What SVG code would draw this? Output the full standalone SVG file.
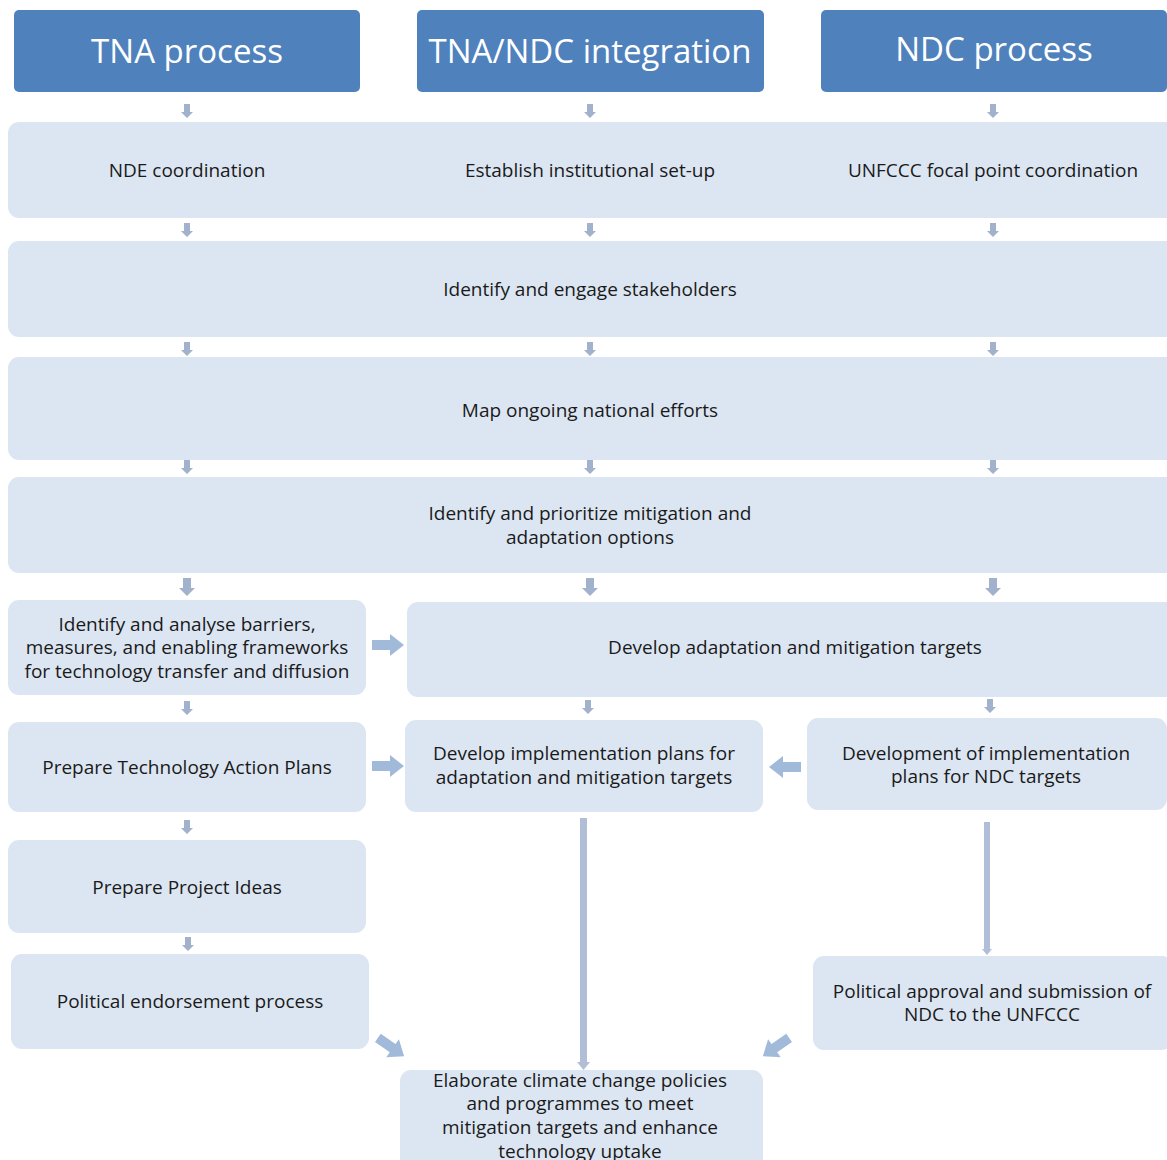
<svg xmlns="http://www.w3.org/2000/svg" width="1167" height="1160" viewBox="0 0 1167 1160">
<defs>
<style>
.hdr{fill:#4F81BD}
.box{fill:#DCE6F2}
.ht{font-family:"Open Sans","Noto Sans",sans-serif;font-size:33px;fill:#FFFFFF;text-anchor:middle}
.t{font-family:"Open Sans","Noto Sans",sans-serif;font-size:19px;fill:#1a1a1a;text-anchor:middle}
.sa{fill:#A3B2CC}
.ba{fill:#A2BADA}
.ln{fill:#B0BED8}
</style>
<path id="sd" d="M-3,-7 H3 V1 H6 L0,7 L-6,1 H-3 Z"/>
<path id="bd" d="M-4,-9 H4 V1 H8 L0,9 L-8,1 H-4 Z"/>
<path id="br" d="M-16,-5 H2 V-11 L16,0 L2,11 V5 H-16 Z"/>
</defs>
<rect width="1167" height="1160" fill="#FFFFFF"/>
<g id="h1"><rect class="hdr" x="14" y="10" width="346" height="82" rx="5"/><text class="ht" x="187" y="63">TNA process</text></g>
<g id="h2"><rect class="hdr" x="417" y="10" width="347" height="82" rx="5"/><text class="ht" x="590" y="63">TNA/NDC integration</text></g>
<g id="h3"><rect class="hdr" x="821" y="10" width="346" height="82" rx="5"/><text class="ht" x="994" y="61">NDC process</text></g>
<g id="r1"><rect class="box" x="8" y="122" width="1170" height="96" rx="11"/>
<text class="t" x="187" y="177">NDE coordination</text>
<text class="t" x="590" y="177">Establish institutional set-up</text>
<text class="t" x="993" y="177">UNFCCC focal point coordination</text></g>
<g id="r2"><rect class="box" x="8" y="241" width="1170" height="96" rx="11"/><text class="t" x="590" y="296">Identify and engage stakeholders</text></g>
<g id="r3"><rect class="box" x="8" y="357" width="1170" height="103" rx="11"/><text class="t" x="590" y="417">Map ongoing national efforts</text></g>
<g id="r4"><rect class="box" x="8" y="477" width="1170" height="96" rx="11"/><text class="t" x="590" y="520">Identify and prioritize mitigation and</text><text class="t" x="590" y="544">adaptation options</text></g>
<g id="n5l"><rect class="box" x="8" y="600" width="358" height="95" rx="11"/><text class="t" x="187" y="631">Identify and analyse barriers,</text><text class="t" x="187" y="654">measures, and enabling frameworks</text><text class="t" x="187" y="678">for technology transfer and diffusion</text></g>
<g id="n5r"><rect class="box" x="407" y="602" width="770" height="95" rx="11"/><text class="t" x="795" y="654">Develop adaptation and mitigation targets</text></g>
<g id="n6l"><rect class="box" x="8" y="722" width="358" height="90" rx="11"/><text class="t" x="187" y="774">Prepare Technology Action Plans</text></g>
<g id="n6m"><rect class="box" x="405" y="720" width="358" height="92" rx="11"/><text class="t" x="584" y="760">Develop implementation plans for</text><text class="t" x="584" y="784">adaptation and mitigation targets</text></g>
<g id="n6r"><rect class="box" x="807" y="718" width="360" height="92" rx="11"/><text class="t" x="986" y="760">Development of implementation</text><text class="t" x="986" y="783">plans for NDC targets</text></g>
<g id="n7l"><rect class="box" x="8" y="840" width="358" height="93" rx="11"/><text class="t" x="187" y="894">Prepare Project Ideas</text></g>
<g id="n8l"><rect class="box" x="11" y="954" width="358" height="95" rx="11"/><text class="t" x="190" y="1008">Political endorsement process</text></g>
<g id="n8r"><rect class="box" x="813" y="956" width="360" height="94" rx="11"/><text class="t" x="992" y="998">Political approval and submission of</text><text class="t" x="992" y="1021">NDC to the UNFCCC</text></g>
<g id="n9"><rect class="box" x="400" y="1070" width="363" height="110" rx="11"/><text class="t" x="580" y="1087">Elaborate climate change policies</text><text class="t" x="580" y="1110">and programmes to meet</text><text class="t" x="580" y="1134">mitigation targets and enhance</text><text class="t" x="580" y="1158">technology uptake</text></g>
<g id="connectors">
<use href="#sd" class="sa" x="187" y="111"/><use href="#sd" class="sa" x="590" y="111"/><use href="#sd" class="sa" x="993" y="111"/>
<use href="#sd" class="sa" x="187" y="230"/><use href="#sd" class="sa" x="590" y="230"/><use href="#sd" class="sa" x="993" y="230"/>
<use href="#sd" class="sa" x="187" y="349"/><use href="#sd" class="sa" x="590" y="349"/><use href="#sd" class="sa" x="993" y="349"/>
<use href="#sd" class="sa" x="187" y="467"/><use href="#sd" class="sa" x="590" y="467"/><use href="#sd" class="sa" x="993" y="467"/>
<use href="#bd" class="sa" x="187" y="587"/><use href="#bd" class="sa" x="590" y="587"/><use href="#bd" class="sa" x="993" y="587"/>
<use href="#sd" class="sa" x="187" y="708"/><use href="#sd" class="sa" x="588" y="707"/><use href="#sd" class="sa" x="990" y="706"/>
<use href="#sd" class="sa" x="187" y="827"/>
<use href="#sd" class="sa" x="188" y="944"/>
<use href="#br" class="ba" x="388" y="645"/>
<use href="#br" class="ba" x="388" y="766"/>
<use href="#br" class="ba" transform="translate(785,767) scale(-1,1)"/>
<use href="#br" class="ba" transform="translate(391,1047) rotate(35)"/>
<use href="#br" class="ba" transform="translate(776,1047) rotate(145)"/>
<path class="ln" d="M580,818 H587 V1062 H590 L583.5,1070 L577,1062 H580 Z"/>
<path class="ln" d="M984,822 H990 V949 H992 L987,955 L982,949 H984 Z"/>
</g>
</svg>
